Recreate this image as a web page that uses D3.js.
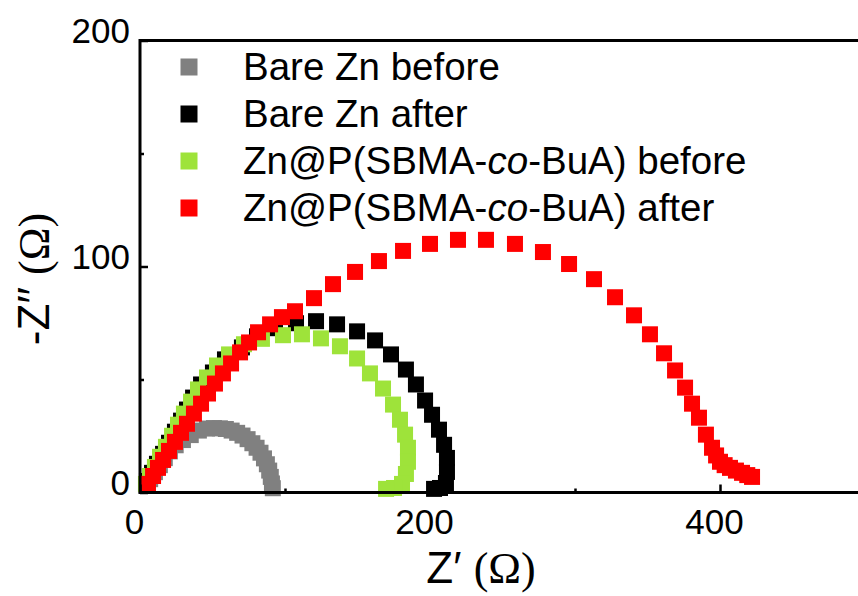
<!DOCTYPE html>
<html>
<head>
<meta charset="utf-8">
<script src="https://cdn.jsdelivr.net/npm/d3@7"></script>
<style>
  html, body { margin: 0; padding: 0; background: #fff; }
  svg { display: block; }
</style>
</head>
<body>
<script>
// Nyquist plots: [Z' (ohm), -Z'' (ohm)]
const bareZnBefore = [
  [4.4,3.2],[7.0,5.9],[10.3,9.0],[13.7,12.1],[17.1,15.2],[20.6,18.2],[24.6,20.9],[29.6,23.2],
  [35.0,25.4],[40.6,27.4],[46.2,28.3],[51.0,28.5],[55.1,28.4],
  [59.2,28.1],[63.2,27.4],[67.0,26.4],[70.7,25.2],[74.2,23.6],[77.5,21.8],[80.4,19.8],[83.1,17.6],
  [85.5,15.1],[87.5,12.5],[89.1,9.7],[90.2,6.9],[91.0,4.0],[91.6,1.9]
];
const bareZnAfter = [
  [4.8,5.1],[8.3,8.7],[11.7,12.7],[15.9,17.1],[20.0,22.0],[24.1,26.9],[28.3,31.8],[32.4,36.7],
  [36.6,42.0],[42.1,47.8],[50.3,53.1],[58.6,58.9],[70.3,64.2],[80.7,69.1],[93.1,72.7],[107.6,74.9],
  [121.4,75.8],[135.9,74.4],[149.7,71.3],[162.1,67.3],[173.1,61.1],[183.4,54.4],[190.3,47.8],[196.6,40.7],
  [201.4,34.4],[206.2,27.8],[209.7,21.1],[211.7,15.3],[211.7,9.1],[211.0,4.2],[206.9,2.0],[202.8,1.6]
];
const coatedBefore = [
  [4.1,3.8],[6.9,7.3],[10.3,11.3],[13.8,15.8],[17.9,20.2],[22.1,25.1],[26.2,30.0],[30.3,34.9],
  [35.2,40.2],[40.0,45.6],[46.2,50.9],[53.1,56.2],[61.4,61.1],[71.7,65.6],[84.1,68.0],[98.6,69.6],
  [111.7,70.0],[124.8,68.2],[137.9,64.7],[149.7,59.3],[158.6,52.7],[167.6,46.0],[174.5,38.9],[179.3,32.2],
  [182.8,25.6],[184.8,19.8],[184.8,13.6],[183.4,8.2],[180.7,3.8],[175.2,2.0],[169.7,1.6]
];
const coatedAfter = [
  [5.5,3.8],[9.0,7.3],[12.4,10.9],[15.9,14.4],[20.0,18.4],[24.1,22.4],[28.3,26.4],[32.4,30.4],
  [37.2,34.9],[42.1,39.3],[46.9,43.8],[51.7,48.2],[57.2,52.7],[62.8,57.1],[69.0,62.0],[75.2,66.4],
  [81.4,70.9],[89.7,74.4],[97.9,77.6],[106.9,80.2],[120.0,86.0],[133.1,92.2],[148.3,97.6],[164.8,102.4],
  [181.4,106.9],[200.0,110.0],[219.3,111.8],[238.6,111.8],[258.6,110.0],[277.9,106.4],[295.9,101.1],[313.1,94.4],
  [327.6,86.4],[340.7,78.4],[351.7,70.0],[361.4,61.6],[369.0,54.0],[375.9,46.4],[380.7,39.3],[385.5,33.1],
  [390.3,25.6],[394.5,19.8],[397.3,16.4],[400.0,13.6],[403.2,12.1],[406.9,10.9],[411.0,9.7],[415.2,8.7],
  [418.8,7.7],[422.1,6.9]
];

const seriesNames = [
  ["Bare Zn before"],
  ["Bare Zn after"],
  ["Zn@P(SBMA-", "co", "-BuA) before"],
  ["Zn@P(SBMA-", "co", "-BuA) after"]
];
const seriesColors = ["#808080", "#000000", "#9ee33a", "#ff0000"];
const seriesData = [bareZnBefore, bareZnAfter, coatedBefore, coatedAfter];

const xMajorTicks = [0, 200, 400];
const xMinorTicks = [100, 300];
const yMajorTicks = [0, 100, 200];
const yMinorTicks = [50, 150];

const W = 858, H = 596;
const svg = d3.select("body").append("svg").attr("width", W).attr("height", H);

const x = d3.scaleLinear().domain([0, 500]).range([140, 865]);
const y = d3.scaleLinear().domain([0, 200]).range([492.5, 40.5]);

const SANS = "'Liberation Sans', Arial, sans-serif";
const SERIF = "'Liberation Serif', 'Times New Roman', serif";

// markers
const MS = 16;
seriesData.forEach((data, i) => {
  svg.append("g")
    .selectAll("rect")
    .data(data)
    .join("rect")
    .attr("x", d => x(d[0]) - MS / 2)
    .attr("y", d => y(d[1]) - MS / 2)
    .attr("width", MS)
    .attr("height", MS)
    .attr("fill", seriesColors[i]);
});

// frame
svg.append("rect")
  .attr("x", x(0)).attr("y", y(200))
  .attr("width", x(500) - x(0)).attr("height", y(0) - y(200))
  .attr("fill", "none").attr("stroke", "#000").attr("stroke-width", 3);

// x axis
const gx = svg.append("g").attr("transform", `translate(0,${y(0)})`);
gx.call(d3.axisBottom(x).tickValues(xMajorTicks).tickSize(-8).tickFormat(d3.format("d")));
gx.append("g").call(d3.axisBottom(x).tickValues(xMinorTicks).tickSize(-4).tickFormat(""));
gx.selectAll(".domain").remove();
gx.selectAll("line").attr("stroke", "#000").attr("stroke-width", 2.5);
gx.selectAll("text")
  .attr("y", 41).attr("dy", 0).attr("dx", -6)
  .attr("font-family", SANS).attr("font-size", 35).attr("fill", "#000");

// y axis
const gy = svg.append("g").attr("transform", `translate(${x(0)},0)`);
gy.call(d3.axisLeft(y).tickValues(yMajorTicks).tickSize(-8).tickFormat(d3.format("d")));
gy.append("g").call(d3.axisLeft(y).tickValues(yMinorTicks).tickSize(-4).tickFormat(""));
gy.selectAll(".domain").remove();
gy.selectAll("line").attr("stroke", "#000").attr("stroke-width", 2.5);
gy.selectAll("text")
  .attr("x", -10).attr("dy", 2)
  .attr("font-family", SANS).attr("font-size", 35).attr("fill", "#000");

// axis titles
const xt = svg.append("text")
  .attr("x", 481).attr("y", 583)
  .attr("text-anchor", "middle").attr("font-size", 44).attr("fill", "#000");
xt.append("tspan").attr("font-family", SANS).text("Z\u2032 ");
xt.append("tspan").attr("font-family", SERIF).text("(\u03A9)");

const yt = svg.append("text")
  .attr("transform", "translate(49,279) rotate(-90)")
  .attr("text-anchor", "middle").attr("font-size", 44).attr("fill", "#000");
yt.append("tspan").attr("font-family", SANS).text("-Z\u2032\u2032 ");
yt.append("tspan").attr("font-family", SERIF).text("(\u03A9)");

// legend
const legend = svg.append("g");
seriesNames.forEach((parts, i) => {
  const cy = 67 + i * 47;
  legend.append("rect")
    .attr("x", 189 - 8.5).attr("y", cy - 8.5)
    .attr("width", 17).attr("height", 17)
    .attr("fill", seriesColors[i]);
  const t = legend.append("text")
    .attr("x", 243).attr("y", cy + 13)
    .attr("font-family", SANS).attr("font-size", 38.5).attr("fill", "#000");
  parts.forEach((p, k) => {
    const ts = t.append("tspan").text(p);
    if (k === 1) ts.attr("font-style", "italic");
  });
});
</script>
</body>
</html>
